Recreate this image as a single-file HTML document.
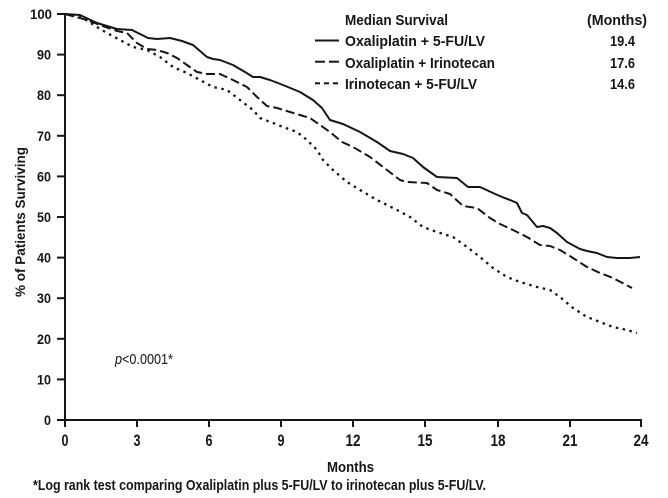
<!DOCTYPE html>
<html><head><meta charset="utf-8"><style>
html,body{margin:0;padding:0;background:#fff;}
svg{display:block;}
text{font-family:"Liberation Sans Narrow","Liberation Sans",sans-serif;fill:#161616;font-weight:bold;}
</style></head><body>
<svg width="668" height="498" viewBox="0 0 668 498" xmlns="http://www.w3.org/2000/svg">
<rect width="668" height="498" fill="#fff"/>
<!-- axes -->
<g stroke="#161616" stroke-width="2" fill="none">
<line x1="65" y1="13" x2="65" y2="421"/>
<line x1="64" y1="420" x2="642" y2="420"/>
<!-- y ticks -->
<line x1="57" y1="14" x2="65" y2="14"/>
<line x1="57" y1="54.6" x2="65" y2="54.6"/>
<line x1="57" y1="95.2" x2="65" y2="95.2"/>
<line x1="57" y1="135.8" x2="65" y2="135.8"/>
<line x1="57" y1="176.4" x2="65" y2="176.4"/>
<line x1="57" y1="217" x2="65" y2="217"/>
<line x1="57" y1="257.6" x2="65" y2="257.6"/>
<line x1="57" y1="298.2" x2="65" y2="298.2"/>
<line x1="57" y1="338.8" x2="65" y2="338.8"/>
<line x1="57" y1="379.4" x2="65" y2="379.4"/>
<line x1="57" y1="420" x2="65" y2="420"/>
<!-- x ticks -->
<line x1="65" y1="420" x2="65" y2="427"/>
<line x1="137" y1="420" x2="137" y2="427"/>
<line x1="209" y1="420" x2="209" y2="427"/>
<line x1="281" y1="420" x2="281" y2="427"/>
<line x1="353" y1="420" x2="353" y2="427"/>
<line x1="425" y1="420" x2="425" y2="427"/>
<line x1="498" y1="420" x2="498" y2="427"/>
<line x1="570" y1="420" x2="570" y2="427"/>
<line x1="641" y1="420" x2="641" y2="427"/>
</g>
<!-- y tick labels -->
<g font-size="14" text-anchor="end">
<text x="52" y="19" textLength="22" lengthAdjust="spacingAndGlyphs">100</text>
<text x="51" y="59.6" textLength="14" lengthAdjust="spacingAndGlyphs">90</text>
<text x="51" y="100.2" textLength="14" lengthAdjust="spacingAndGlyphs">80</text>
<text x="51" y="140.8" textLength="14" lengthAdjust="spacingAndGlyphs">70</text>
<text x="51" y="181.4" textLength="14" lengthAdjust="spacingAndGlyphs">60</text>
<text x="51" y="222" textLength="14" lengthAdjust="spacingAndGlyphs">50</text>
<text x="51" y="262.6" textLength="14" lengthAdjust="spacingAndGlyphs">40</text>
<text x="51" y="303.2" textLength="14" lengthAdjust="spacingAndGlyphs">30</text>
<text x="51" y="343.8" textLength="14" lengthAdjust="spacingAndGlyphs">20</text>
<text x="51" y="384.4" textLength="14" lengthAdjust="spacingAndGlyphs">10</text>
<text x="51" y="425" textLength="7" lengthAdjust="spacingAndGlyphs">0</text>
</g>
<!-- x tick labels -->
<g font-size="17" text-anchor="middle">
<text x="65" y="446" textLength="7" lengthAdjust="spacingAndGlyphs">0</text>
<text x="137" y="446" textLength="7" lengthAdjust="spacingAndGlyphs">3</text>
<text x="209" y="446" textLength="7" lengthAdjust="spacingAndGlyphs">6</text>
<text x="281" y="446" textLength="7" lengthAdjust="spacingAndGlyphs">9</text>
<text x="353" y="446" textLength="15" lengthAdjust="spacingAndGlyphs">12</text>
<text x="425" y="446" textLength="15" lengthAdjust="spacingAndGlyphs">15</text>
<text x="498" y="446" textLength="15" lengthAdjust="spacingAndGlyphs">18</text>
<text x="570" y="446" textLength="15" lengthAdjust="spacingAndGlyphs">21</text>
<text x="641" y="446" textLength="15" lengthAdjust="spacingAndGlyphs">24</text>
</g>
<!-- axis titles -->
<text x="327" y="472" font-size="15" textLength="47" lengthAdjust="spacingAndGlyphs">Months</text>
<text transform="translate(25,297) rotate(-90)" font-size="14" textLength="150" lengthAdjust="spacingAndGlyphs">% of Patients Surviving</text>
<text x="33" y="490" font-size="15" textLength="453" lengthAdjust="spacingAndGlyphs">*Log rank test comparing Oxaliplatin plus 5-FU/LV to irinotecan plus 5-FU/LV.</text>
<text x="115" y="364" font-size="15" style="font-weight:normal" textLength="58" lengthAdjust="spacingAndGlyphs"><tspan font-style="italic">p</tspan>&lt;0.0001*</text>
<!-- legend -->
<g font-size="15">
<text x="345" y="25" textLength="103" lengthAdjust="spacingAndGlyphs">Median Survival</text>
<text x="587" y="25" textLength="60" lengthAdjust="spacingAndGlyphs">(Months)</text>
<text x="345" y="46" textLength="140" lengthAdjust="spacingAndGlyphs">Oxaliplatin + 5-FU/LV</text>
<text x="345" y="68" textLength="150" lengthAdjust="spacingAndGlyphs">Oxaliplatin + Irinotecan</text>
<text x="345" y="89" textLength="132" lengthAdjust="spacingAndGlyphs">Irinotecan + 5-FU/LV</text>
<text x="610" y="46" textLength="25" lengthAdjust="spacingAndGlyphs">19.4</text>
<text x="610" y="68" textLength="25" lengthAdjust="spacingAndGlyphs">17.6</text>
<text x="610" y="89" textLength="25" lengthAdjust="spacingAndGlyphs">14.6</text>
</g>
<g stroke="#161616" stroke-width="2" fill="none">
<line x1="315" y1="40.5" x2="339" y2="40.5"/>
<line x1="315" y1="61.7" x2="325" y2="61.7"/>
<line x1="329" y1="61.7" x2="339" y2="61.7"/>
<line x1="315" y1="83.3" x2="320" y2="83.3"/>
<line x1="324" y1="83.3" x2="329" y2="83.3"/>
<line x1="333" y1="83.3" x2="338" y2="83.3"/>
</g>
<!-- curves -->
<g fill="none" stroke="#161616" stroke-linejoin="round">
<polyline stroke-width="2" points="65,14 80,15 97,23 117,29 132,30 138,33 148,38 157,39 170,38 182,41 193,45 207,57 213,59 220,60 233,65 245,72 253,77 260,77 270,80 283,85 300,92 313,100 322,108 330,120 343,124 360,132 377,142 390,151 403,154 413,158 423,167 437,177 457,178 468,187 480,187 493,193 502,197 510,200 517,203 522,213 527,215 537,227 543,226 550,228 557,233 567,242 580,249 587,251 597,253 607,257 617,258 630,258 640,257"/>
<polyline stroke-width="2" stroke-dasharray="9,4" points="65,14 87,20 100,25 117,31 127,33 137,43 147,49 157,50 167,53 177,58 187,65 197,72 207,74 220,74 233,80 247,87 257,97 267,106 277,108 290,112 300,115 310,118 320,125 330,132 342,142 353,147 370,157 387,170 400,180 407,182 427,183 437,190 450,194 463,206 477,208 490,218 500,224 513,230 527,237 540,245 550,246 560,250 573,258 587,267 600,273 613,278 632,288"/>
<polyline stroke-width="2.3" stroke-dasharray="2.5,4.5" points="65,14 83,18 97,27 107,33 120,40 133,47 147,50 160,57 173,67 187,73 200,80 213,87 227,90 240,100 253,110 260,118 273,123 283,127 297,132 307,140 317,150 323,160 333,170 347,182 360,190 377,200 397,210 410,217 423,227 437,232 453,237 467,247 480,257 493,268 507,277 520,282 537,287 550,290 560,297 573,308 587,317 600,322 613,327 627,330 637,333"/>
</g>
</svg>
</body></html>
